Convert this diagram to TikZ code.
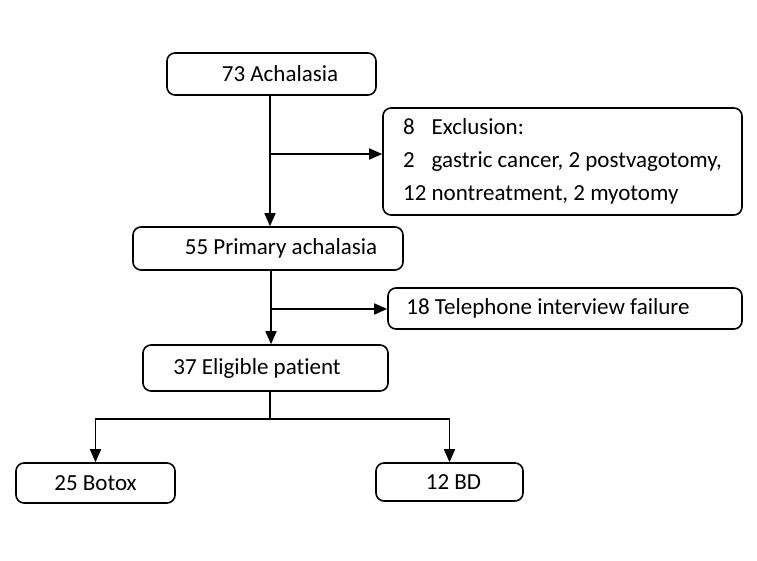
\documentclass[tikz,border=0pt]{standalone}
\usepackage{fontspec}
\setmainfont{Carlito}[Ligatures=NoCommon]
\usetikzlibrary{arrows.meta,positioning}

\tikzset{
  box/.style={draw, line width=1.6pt, rounded corners=8pt, inner sep=2pt,
              font=\fontsize{23}{33}\selectfont},
  arr/.style={line width=1.6pt, -{Triangle[length=13pt,width=11pt]}},
  trunk/.style={line width=1.6pt}
}

\begin{document}
\begin{tikzpicture}[x=1pt,y=-1pt]
  \useasboundingbox (0,0) rectangle (757,560);

  % Boxes
  \node[box, minimum width=209, minimum height=42] (achal) at (271.5,74) {\hspace*{17pt}73 Achalasia};
  \node[box, minimum width=359, minimum height=107, align=left] (excl) at (562.5,161.5)
    {8\hphantom{1} Exclusion:\\2\hphantom{1} gastric cancer, 2 postvagotomy,\hspace*{11pt}\\12 nontreatment, 2 myotomy};
  \node[box, minimum width=270, minimum height=43] (primary) at (268,248.5) {\hspace*{26pt}55 Primary achalasia};
  \node[box, minimum width=354, minimum height=41] (phone) at (565,308.5) {18 Telephone interview failure\hspace*{34pt}};
  \node[box, minimum width=245, minimum height=46] (elig) at (265.5,368) {37 Eligible patient\hspace*{17pt}};
  \node[box, minimum width=159, minimum height=40] (botox) at (95.5,483) {25 Botox};
  \node[box, minimum width=147, minimum height=38] (bd) at (449.5,482) {\hspace*{8pt}12 BD};

  % Branch points
  \coordinate (fork1) at (270,154);
  \coordinate (fork2) at (271,309);
  \coordinate (split) at (270,419);

  % Connectors
  \draw[arr] (achal.south -| fork1) -- (primary.north -| fork1);
  \draw[arr] (fork1) -- (fork1 -| excl.west);
  \draw[arr] (primary.south -| fork2) -- (elig.north -| fork2);
  \draw[arr] (fork2) -- (fork2 -| phone.west);
  \draw[trunk] (elig.south -| split) -- (split);
  \draw[arr] (split) -| (botox.north);
  \draw[arr] (split) -| (bd.north);

\end{tikzpicture}
\end{document}
